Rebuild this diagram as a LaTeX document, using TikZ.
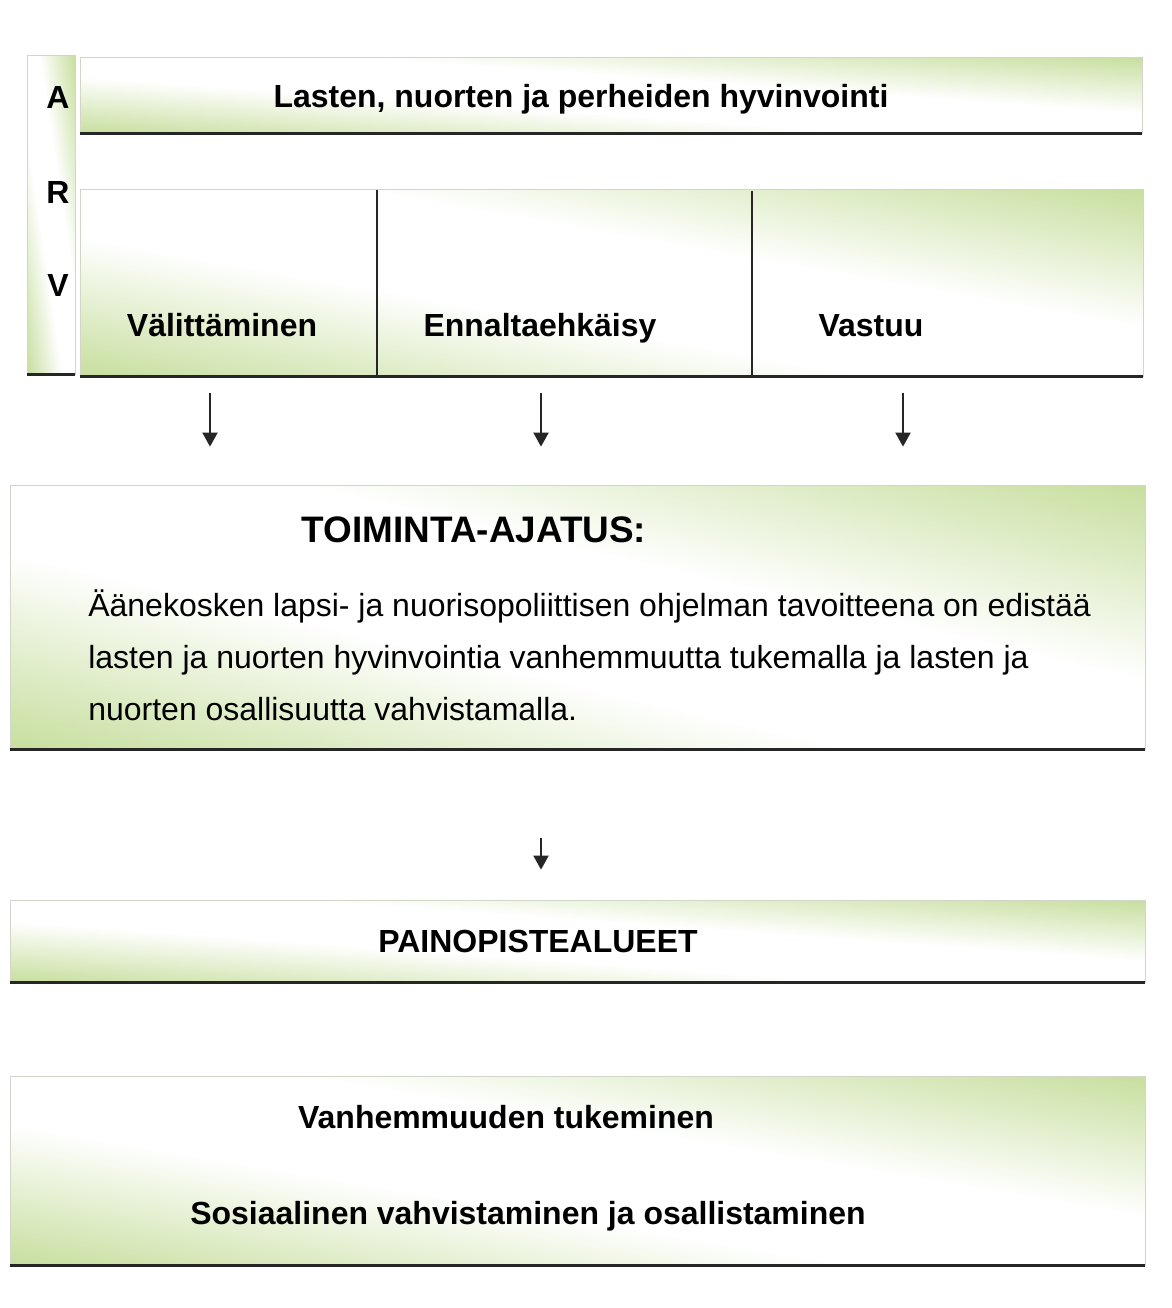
\documentclass[tikz,border=0pt]{standalone}
\usepackage{fontspec}
\setmainfont{Liberation Sans}
\usetikzlibrary{arrows.meta, positioning, fit}

\definecolor{leafgreen}{RGB}{200,223,160}
\definecolor{rimgray}{RGB}{210,214,200}
\pgfdeclarehorizontalshading{leafband}{100bp}{color(0bp)=(leafgreen); color(15bp)=(leafgreen); color(41bp)=(white); color(59bp)=(white); color(85bp)=(leafgreen); color(100bp)=(leafgreen)}

\newcommand{\bodysize}{\fontsize{18.2}{29.6}\selectfont}
\newcommand{\titlesize}{\fontsize{21}{25}\selectfont}

% diagonal green wash stretched over a box, corners given in px
\newcommand{\leafwash}[4]{%
  \pgfmathsetmacro{\hw}{(#3-#1)*0.28453}%
  \pgfmathsetmacro{\hh}{(#4-#2)*0.28453}%
  \begin{scope}[transform canvas={shift={({(#1+#3)/2},{(#2+#4)/2})}, xscale=\hw, yscale=\hh}]
    \shade[shading=leafband, shading angle=45] (-1pt,-1pt) rectangle (1pt,1pt);
  \end{scope}}

\begin{document}
\begin{tikzpicture}[
  x=0.02cm, y=-0.02cm,
  panel/.style={rectangle, inner sep=0pt, draw=rimgray, line width=0.4pt},
  edge/.style={draw=black!85, line width=1.7pt},
  divider/.style={draw=black!85, line width=1pt},
  lbl/.style={anchor=base, inner sep=0pt, font=\bodysize\bfseries},
  txt/.style={anchor=base west, inner sep=0pt, font=\bodysize},
  arrow/.style={-{Triangle[length=8pt, width=8.5pt]}, line width=1.3pt, black!85}
]
\useasboundingbox (0,0) rectangle (1172,1308);

% green washes behind the panels
\leafwash{27}{55}{75}{374}
\leafwash{80}{57}{1142}{133}
\leafwash{80}{189}{1143}{376}
\leafwash{10}{485}{1145}{749}
\leafwash{10}{900}{1145}{982}
\leafwash{10}{1076}{1145}{1265}

% arvot
\node[panel, fit={(27,55) (75,374)}] (arv) {};
\node[lbl] (arvA) at (58,109) {A};
\node[lbl] (arvR) at (58,203) {R};
\node[lbl] (arvV) at (58,296) {V};

\node[panel, fit={(80,57) (1142,133)}] (ylin) {};
\node[lbl] (ylinT) at (581,108) {Lasten, nuorten ja perheiden hyvinvointi};

\node[panel, fit={(80,189) (1143,376)}] (val) {};
\draw[divider] (377,190) -- (377,376);
\draw[divider] (752,191) -- (752,376);
\node[lbl] (vali) at (222,336) {Välittäminen};
\node[lbl] (enna) at (540,336) {Ennaltaehkäisy};
\node[lbl] (vast) at (871,336) {Vastuu};

% toiminta-ajatus
\node[panel, fit={(10,485) (1145,749)}] (toim) {};
\node[lbl, font=\titlesize\bfseries] (toimT) at (474,542) {TOIMINTA-AJATUS:};
\node[txt] (toim1) at (88,616) {Äänekosken lapsi- ja nuorisopoliittisen ohjelman tavoitteena on edistää};
\node[txt] (toim2) at (88,668) {lasten ja nuorten hyvinvointia vanhemmuutta tukemalla ja lasten ja};
\node[txt] (toim3) at (88,720) {nuorten osallisuutta vahvistamalla.};

% painopisteet
\node[panel, fit={(10,900) (1145,982)}] (paino) {};
\node[lbl] (painoT) at (538,952) {PAINOPISTEALUEET};

\node[panel, fit={(10,1076) (1145,1265)}] (alue) {};
\node[lbl] (alue1) at (506,1128) {Vanhemmuuden tukeminen};
\node[lbl] (alue2) at (528,1224) {Sosiaalinen vahvistaminen ja osallistaminen};

\foreach \b in {arv, ylin, val, toim, paino, alue}
  \draw[edge] (\b.south west) -- (\b.south east);

\coordinate (c1) at (210,376);
\coordinate (c2) at (541,376);
\coordinate (c3) at (903,376);
\coordinate (c4) at (541,749);

\foreach \c in {c1, c2, c3}
  \draw[arrow, shorten <=0.34cm, shorten >=0.76cm] (\c) -- (\c |- toim.north);
\draw[arrow, shorten <=1.78cm, shorten >=0.6cm] (c4) -- (c4 |- paino.north);

\end{tikzpicture}
\end{document}
